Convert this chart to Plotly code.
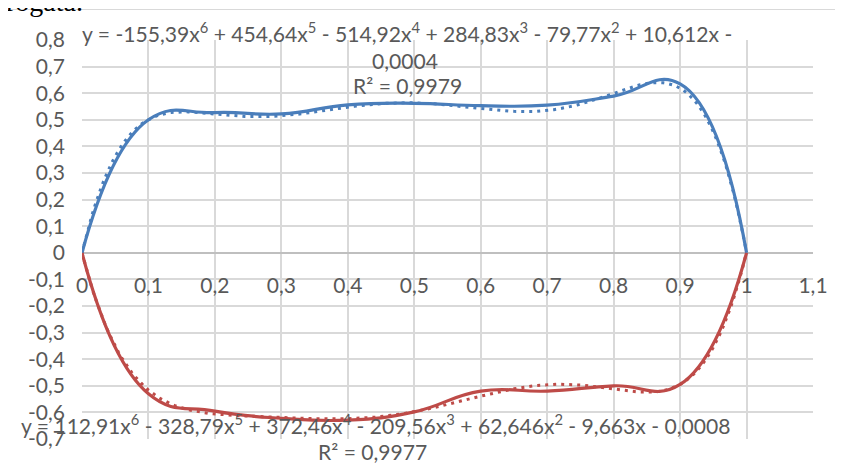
import numpy as np
import plotly.graph_objects as go

# ---- data ----
X_POS = [0, 0.1, 0.2, 0.3, 0.4, 0.5, 0.6, 0.7, 0.8, 0.9, 1.0]
Y_UPPER = [0, 0.50, 0.527, 0.522, 0.556, 0.562, 0.553, 0.555, 0.589, 0.635, 0]
Y_LOWER = [0, -0.53, -0.595, -0.622, -0.629, -0.598, -0.52, -0.52, -0.50, -0.495, 0]

# trendline coefficients (6th order polynomial, highest power first)
COEF_UPPER = [-155.39, 454.64, -514.92, 284.83, -79.77, 10.612, -0.0004]
COEF_LOWER = [112.91, -328.79, 372.46, -209.56, 62.646, -9.663, -0.0008]

X_TICKS = [0, 0.1, 0.2, 0.3, 0.4, 0.5, 0.6, 0.7, 0.8, 0.9, 1.0, 1.1]
X_TICK_LABELS = ["0", "0,1", "0,2", "0,3", "0,4", "0,5", "0,6", "0,7", "0,8", "0,9", "1", "1,1"]
Y_TICKS = [0.8, 0.7, 0.6, 0.5, 0.4, 0.3, 0.2, 0.1, 0, -0.1, -0.2, -0.3, -0.4, -0.5, -0.6, -0.7]
Y_TICK_LABELS = ["0,8", "0,7", "0,6", "0,5", "0,4", "0,3", "0,2", "0,1", "0",
                 "-0,1", "-0,2", "-0,3", "-0,4", "-0,5", "-0,6", "-0,7"]

EQ_UPPER = "y = -155,39x<sup>6</sup> + 454,64x<sup>5</sup> - 514,92x<sup>4</sup> + 284,83x<sup>3</sup> - 79,77x<sup>2</sup> + 10,612x -"
EQ_UPPER_2 = "0,0004"
R2_UPPER = "R² = 0,9979"
EQ_LOWER = "y = 112,91x<sup>6</sup> - 328,79x<sup>5</sup> + 372,46x<sup>4</sup> - 209,56x<sup>3</sup> + 62,646x<sup>2</sup> - 9,663x - 0,0008"
R2_LOWER = "R² = 0,9977"

BLUE = "#4A7EBB"
RED = "#BE4B48"
GRID = "#d9d9d9"
TXT = "#595959"
FONT = "Lato"

# page has an 8px body margin; lay the figure out so the screen matches
OFF = 8
W, H = 843, 463
L, T = 82 - OFF, 40 - OFF
PW, PH = 731, 399
R = W - L - PW
B = H - T - PH


def px(sx):
    return (sx - OFF - L) / PW


def py(sy):
    return (T + PH - (sy - OFF)) / PH


xd = np.linspace(0, 1, 201)
trend_up = np.polyval(COEF_UPPER, xd)
trend_lo = np.polyval(COEF_LOWER, xd)

fig = go.Figure()
fig.add_trace(go.Scatter(x=X_POS, y=Y_UPPER, mode="lines",
                         line=dict(color=BLUE, width=3.2, shape="spline", smoothing=1.3),
                         showlegend=False))
fig.add_trace(go.Scatter(x=X_POS, y=Y_LOWER, mode="lines",
                         line=dict(color=RED, width=3.2, shape="spline", smoothing=1.3),
                         showlegend=False))
fig.add_trace(go.Scatter(x=xd, y=trend_up, mode="lines",
                         line=dict(color=BLUE, width=3, dash="3px,5px"),
                         showlegend=False))
fig.add_trace(go.Scatter(x=xd, y=trend_lo, mode="lines",
                         line=dict(color=RED, width=3, dash="3px,5px"),
                         showlegend=False))

ann_font = dict(family=FONT, size=21.1, color=TXT)
annotations = [
    dict(text=EQ_UPPER, x=px(80), y=py(32), xanchor="left", yanchor="middle"),
    dict(text=EQ_UPPER_2, x=px(405), y=py(60), xanchor="center", yanchor="middle"),
    dict(text=R2_UPPER, x=px(407), y=py(85), xanchor="center", yanchor="middle"),
    dict(text=EQ_LOWER, x=px(19), y=py(424), xanchor="left", yanchor="middle"),
    dict(text=R2_LOWER, x=px(372), y=py(451), xanchor="center", yanchor="middle"),
]
for a in annotations:
    a.update(xref="paper", yref="paper", showarrow=False, font=ann_font)

annotations.append(dict(text="rogata.", x=px(4), y=py(2), xref="paper", yref="paper",
                        xanchor="left", yanchor="middle", showarrow=False,
                        font=dict(family="Liberation Serif", size=28, color="#000000")))

fig.update_layout(
    width=W, height=H,
    margin=dict(l=L, r=R, t=T, b=B, autoexpand=False),
    paper_bgcolor="white", plot_bgcolor="white",
    annotations=annotations,
    shapes=[dict(type="rect", xref="paper", yref="paper",
                 x0=px(5), x1=px(870), y0=py(490), y1=py(9.5),
                 line=dict(color=GRID, width=1.2), layer="below")],
)
fig.update_xaxes(range=[0, 1.1], tickmode="array", tickvals=X_TICKS, ticktext=X_TICK_LABELS,
                 showgrid=True, gridcolor=GRID, gridwidth=1.5,
                 anchor="free", position=py(252.7), automargin=False,
                 showline=False, zeroline=False, ticks="",
                 ticklabelstandoff=18,
                 tickfont=dict(family=FONT, size=21, color=TXT))
fig.update_yaxes(range=[-0.7, 0.8], tickmode="array", tickvals=Y_TICKS, ticktext=Y_TICK_LABELS,
                 showgrid=True, gridcolor=GRID, gridwidth=1.5, automargin=False,
                 zeroline=True, zerolinecolor="#bfbfbf", zerolinewidth=1.5,
                 showline=False, ticks="", ticklabelstandoff=16,
                 tickfont=dict(family=FONT, size=21, color=TXT))

fig.write_html("out.html")
